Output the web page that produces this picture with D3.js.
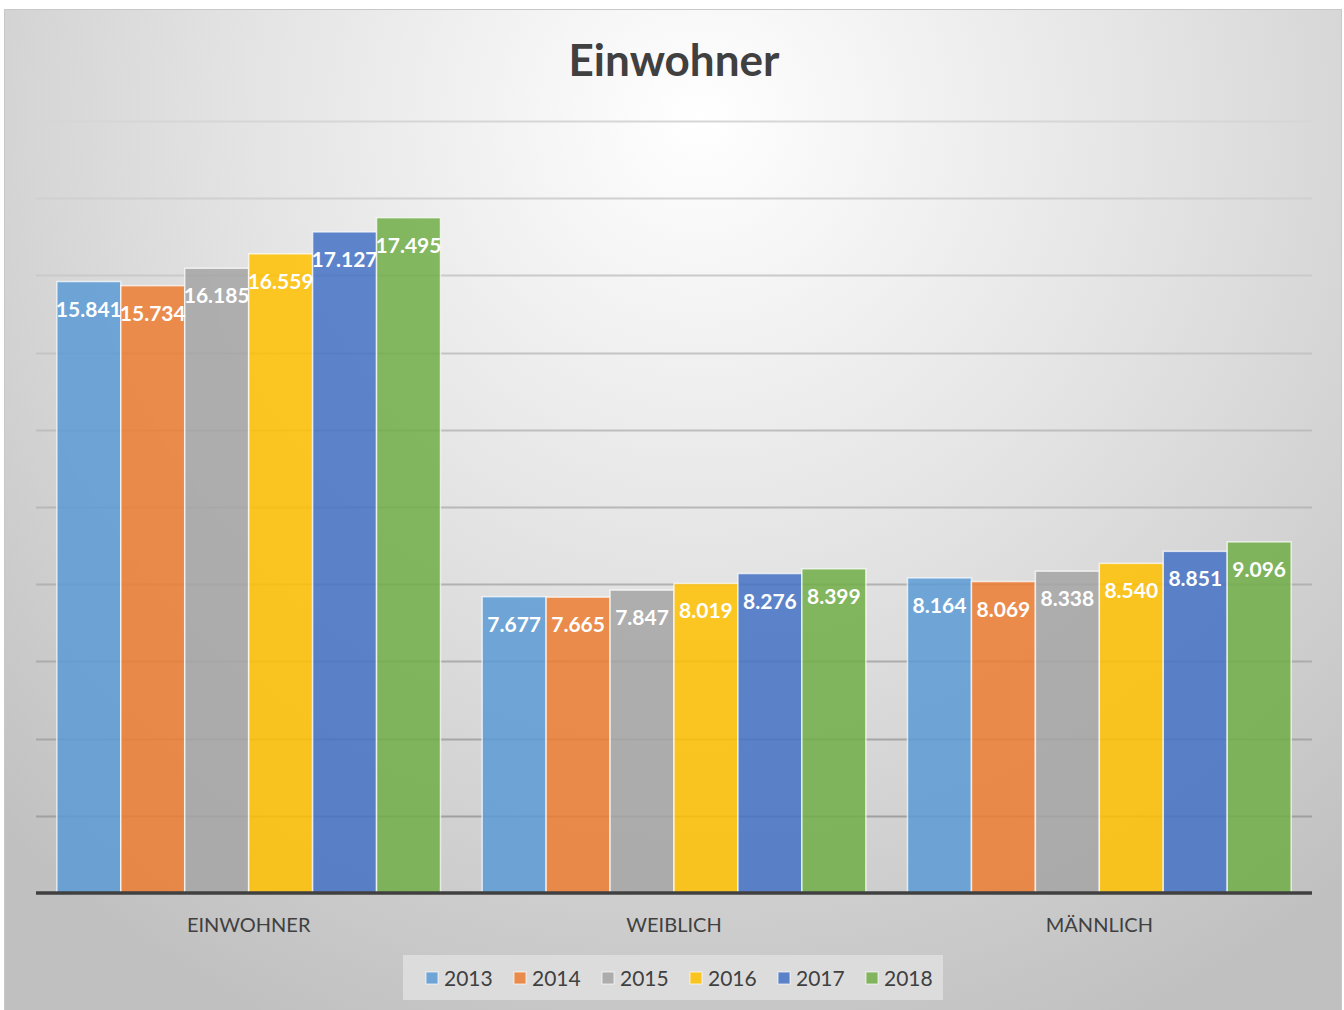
<!DOCTYPE html>
<html>
<head>
<meta charset="utf-8">
<script src="https://cdn.jsdelivr.net/npm/d3@7"></script>
<style>
html,body{margin:0;padding:0;background:#fff;}
svg{display:block;}
</style>
</head>
<body>
<script>
const categories = ["EINWOHNER", "WEIBLICH", "MÄNNLICH"];
const years = ["2013", "2014", "2015", "2016", "2017", "2018"];
const v2013 = [15841, 7677, 8164];
const v2014 = [15734, 7665, 8069];
const v2015 = [16185, 7847, 8338];
const v2016 = [16559, 8019, 8540];
const v2017 = [17127, 8276, 8851];
const v2018 = [17495, 8399, 9096];
const colors = ["#5B9BD5", "#ED7D31", "#A5A5A5", "#FFC000", "#4472C4", "#70AD47"];
const yTicks = [0, 2000, 4000, 6000, 8000, 10000, 12000, 14000, 16000, 18000, 20000];
const title = "Einwohner";

const seriesValues = [v2013, v2014, v2015, v2016, v2017, v2018];

const W = 1344, H = 1010;
const font = "Lato, 'Open Sans', sans-serif";
const svg = d3.select("body").append("svg").attr("width", W).attr("height", H);

const defs = svg.append("defs");
const rg = defs.append("radialGradient").attr("id", "bg")
  .attr("gradientUnits", "userSpaceOnUse")
  .attr("cx", 700).attr("cy", 120).attr("r", 1000);
rg.append("stop").attr("offset", "0%").attr("stop-color", "#ffffff");
rg.append("stop").attr("offset", "45%").attr("stop-color", "#e4e4e4");
rg.append("stop").attr("offset", "100%").attr("stop-color", "#c0c0c0");

svg.append("rect").attr("x", 4.5).attr("y", 9.5).attr("width", 1337).attr("height", 1001)
  .attr("fill", "url(#bg)").attr("stroke", "#c8c8c8").attr("stroke-width", 1);

const plot = {left: 36, right: 1312, top: 121, bottom: 893};

const x0 = d3.scaleBand().domain(categories).range([plot.left, plot.right]).paddingInner(0.098).paddingOuter(0.049);
const x1 = d3.scaleBand().domain(years).range([0, x0.bandwidth()]).padding(0);
const y = d3.scaleLinear().domain([0, 20000]).range([plot.bottom, plot.top]);

const gridCol = d3.scaleLinear().domain([plot.top, plot.bottom]).range(["#d6d6d6", "#9a9a9a"]);

svg.append("g").selectAll("line").data(yTicks.slice(1)).join("line")
  .attr("x1", plot.left).attr("x2", plot.right)
  .attr("y1", d => Math.round(y(d)) + 0.5).attr("y2", d => Math.round(y(d)) + 0.5)
  .attr("stroke", d => gridCol(y(d))).attr("stroke-width", 2);

const loc = d3.formatLocale({decimal: ",", thousands: ".", grouping: [3], currency: ["", "€"]});
const fmt = loc.format(",d");

const groups = svg.append("g").selectAll("g").data(categories).join("g")
  .attr("transform", d => `translate(${x0(d)},0)`);

groups.selectAll("rect").data((c, ci) => years.map((yr, si) => ({yr, si, v: seriesValues[si][ci]})))
  .join("rect")
  .attr("x", d => x1(d.yr)).attr("width", x1.bandwidth())
  .attr("y", d => y(d.v)).attr("height", d => plot.bottom - y(d.v))
  .attr("fill", d => colors[d.si]).attr("fill-opacity", 0.85)
  .attr("stroke", "rgba(255,255,255,0.7)").attr("stroke-width", 1.5);

groups.selectAll("text").data((c, ci) => years.map((yr, si) => ({yr, si, v: seriesValues[si][ci]})))
  .join("text")
  .attr("x", d => x1(d.yr) + x1.bandwidth() / 2)
  .attr("y", d => y(d.v) + 35)
  .attr("text-anchor", "middle")
  .attr("font-family", font).attr("font-weight", "bold").attr("font-size", 21)
  .attr("fill", "#ffffff")
  .text(d => fmt(d.v));

// baseline
svg.append("line").attr("x1", plot.left).attr("x2", plot.right)
  .attr("y1", plot.bottom).attr("y2", plot.bottom)
  .attr("stroke", "#404040").attr("stroke-width", 3.5);

// category axis labels
const xAxis = d3.axisBottom(x0).tickSize(0).tickPadding(0);
const ax = svg.append("g").attr("transform", `translate(0,${plot.bottom})`).call(xAxis);
ax.select(".domain").remove();
ax.selectAll("text").attr("y", 39).attr("dy", 0)
  .attr("font-family", font).attr("font-size", 20).attr("fill", "#404040");

// title
svg.append("text").attr("x", 674).attr("y", 76).attr("text-anchor", "middle")
  .attr("font-family", font).attr("font-weight", "bold").attr("font-size", 44)
  .attr("fill", "#404040").text(title);

// legend
const lg = svg.append("g");
lg.append("rect").attr("x", 403).attr("y", 955).attr("width", 540).attr("height", 45)
  .attr("fill", "#dedede").attr("fill-opacity", 0.9);
const lx = d3.scalePoint().domain(years).range([426, 866]);
const li = lg.selectAll("g").data(years).join("g").attr("transform", d => `translate(${lx(d)},0)`);
li.append("rect").attr("x", 0).attr("y", 972).attr("width", 12).attr("height", 12)
  .attr("fill", (d, i) => colors[i]).attr("fill-opacity", 0.85)
  .attr("stroke", "rgba(255,255,255,0.7)");
li.append("text").attr("x", 18).attr("y", 985.5)
  .attr("font-family", font).attr("font-size", 21).attr("fill", "#404040").text(d => d);
</script>
</body>
</html>
